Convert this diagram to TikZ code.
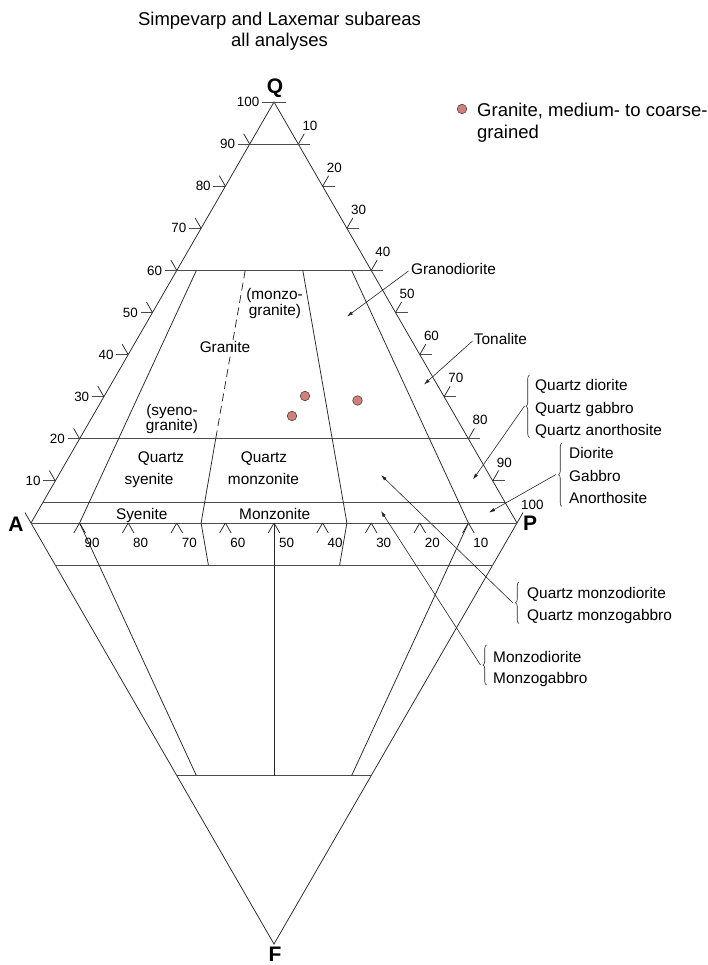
\documentclass[tikz,border=0pt]{standalone}
\usepackage{fontspec}
\setmainfont{Liberation Sans}
\usetikzlibrary{arrows.meta,decorations.pathreplacing}
\definecolor{dotfill}{RGB}{205,128,124}
\definecolor{dotline}{RGB}{70,50,50}
\begin{document}
\begin{tikzpicture}[x=1pt,y=-1pt,
  ln/.style={line width=0.75pt, draw=black!85},
  hl/.style={line width=0.9pt, draw=black!70},
  fld/.style={font=\fontsize{15.4}{16}\selectfont, inner sep=0pt, anchor=base},
  fldw/.style={font=\fontsize{15.4}{16}\selectfont, inner sep=0pt, anchor=base west},
  ticklab/.style={font=\fontsize{13.4}{14}\selectfont, inner sep=0pt},
  vtx/.style={font=\fontsize{21}{22}\selectfont\bfseries, inner sep=0pt},
  ttl/.style={font=\fontsize{18.5}{20}\selectfont, inner sep=0pt, anchor=base},
  arr/.style={line width=0.6pt, draw=black!85, -{Latex[length=6pt,width=3.6pt]}},
  brc/.style={line width=0.6pt, draw=black!85, decorate, decoration={brace, amplitude=3.5pt}},
  dot/.style={circle, fill=dotfill, draw=dotline, line width=0.5pt, minimum size=9.6pt, inner sep=0pt}]
\useasboundingbox (0,0) rectangle (708,965);

% title
\node[ttl] (t1) at (279.5,26) {Simpevarp and Laxemar subareas};
\node[ttl] (t2) at (279.5,47) {all analyses};

% vertices
\coordinate (Q) at (274,102);
\coordinate (A) at (31,523);
\coordinate (P) at (517,523);
\coordinate (F) at (274,944);
\coordinate (Aext) at (25,512.6);
\coordinate (Pext) at (523,512.6);

\node[vtx] (lQ) at (275,88) {Q};
\node[vtx] (lA) at (16,524) {A};
\node[vtx] (lP) at (530,523) {P};
\node[vtx] (lF) at (275,954.5) {F};

% outer edges
\draw[ln] (A) -- (Q) -- (P);
\draw[ln] (Aext) -- (F) -- (Pext);
\draw[hl] (A) -- (P);

% horizontal level lines
\coordinate (h90l) at (249.7,144.1); \coordinate (h90r) at (298.3,144.1);
\coordinate (h60l) at (176.8,270.4); \coordinate (h60r) at (371.2,270.4);
\coordinate (h20l) at (79.6,438.8);  \coordinate (h20r) at (468.4,438.8);
\coordinate (h5l) at (43.15,501.95); \coordinate (h5r) at (504.85,501.95);
\coordinate (f10l) at (55.3,565.1);  \coordinate (f10r) at (492.7,565.1);
\coordinate (f60l) at (176.8,775.6); \coordinate (f60r) at (371.2,775.6);
\draw[hl] (h90l) -- (h90r);
\draw[hl] (h60l) -- (h60r);
\draw[hl] (h20l) -- (h20r);
\draw[hl] (h5l) -- (h5r);
\draw[hl] (f10l) -- (f10r);
\draw[hl] (f60l) -- (f60r);

% field boundaries
\coordinate (a1) at (196.4,270.4); \coordinate (a2) at (79.6,523);  \coordinate (a3) at (196.4,775.6);
\coordinate (b1) at (351.6,270.4); \coordinate (b2) at (468.4,523); \coordinate (b3) at (351.6,775.6);
\coordinate (c1) at (245.2,270.4); \coordinate (c2) at (215.7,438.8); \coordinate (c3) at (201.1,523); \coordinate (c4) at (208.4,565.1);
\coordinate (d1) at (302.8,270.4); \coordinate (d2) at (346.9,523); \coordinate (d3) at (339.6,565.1);
\coordinate (e1) at (274,523); \coordinate (e2) at (274,775.6);
\draw[ln] (a1) -- (a2) -- (a3);
\draw[ln] (b1) -- (b2) -- (b3);
\draw[ln, dash pattern=on 8pt off 4.5pt] (c1) -- (c2);
\draw[ln] (c2) -- (c3) -- (c4);
\draw[ln] (d1) -- (d2) -- (d3);
\draw[ln] (e1) -- (e2);

% apex tick
\coordinate (apl) at (262,102); \coordinate (apr) at (286,102);
\draw[hl] (apl) -- (apr);
\node[ticklab, anchor=east] (q100) at (259.5,102) {100};

% left ticks (Q)
\foreach \k in {1,...,9}{
  \pgfmathsetmacro\lx{274-24.3*(10-\k)}
  \pgfmathsetmacro\ly{523-42.1*\k}
  \coordinate (lt\k) at (\lx,\ly);
  \draw[hl] (lt\k) -- ++(-12,0);
  \draw[ln] (lt\k) -- ++(-6,-10.4);
  \node[ticklab, anchor=east] (ql\k) at (\lx-14.5,\ly) {\k0};
}
% right ticks (P along Q-P edge)
\foreach \k in {1,...,9}{
  \pgfmathsetmacro\rx{274+24.3*(10-\k)}
  \pgfmathsetmacro\ry{523-42.1*\k}
  \pgfmathtruncatemacro\lab{(10-\k)*10}
  \coordinate (rt\k) at (\rx,\ry);
  \draw[hl] (rt\k) -- ++(12,0);
  \draw[ln] (rt\k) -- ++(6,-10.4);
  \node[ticklab, anchor=west] (pr\k) at (\rx+4,\ry-18.5) {\lab};
}
\node[ticklab, anchor=west] (pr0) at (521,505) {100};

% bottom ticks
\foreach \j/\lab in {1/90,2/80,3/70,4/60,5/50,6/40,7/30,8/20,9/10}{
  \pgfmathsetmacro\bx{31+48.6*\j}
  \coordinate (bt\j) at (\bx,523);
  \draw[ln] (bt\j) -- ++(-5.8,10);
  \draw[ln] (bt\j) -- ++(5.8,10);
  \node[ticklab] (ab\j) at (\bx+12.5,542.5) {\lab};
}

% field names
\node[fld] (mz1) at (274.5,299) {(monzo-};
\node[fld] (mz2) at (275,315) {granite)};
\node[fld] (gr) at (225,352.5) {Granite};
\node[fld] (sy1) at (172,415) {(syeno-};
\node[fld] (sy2) at (172,430.5) {granite)};
\node[fld] (qs1) at (161,462) {Quartz};
\node[fld] (qs2) at (149,484) {syenite};
\node[fld] (qm1) at (264,462) {Quartz};
\node[fld] (qm2) at (263.5,484) {monzonite};
\node[fld] (sye) at (141.7,519.5) {Syenite};
\node[fld] (mon) at (274.7,519.5) {Monzonite};

% labels outside with arrows
\node[fld] (gd) at (453.5,274.5) {Granodiorite};
\node[fld] (to) at (500.5,344.5) {Tonalite};
\coordinate (gds) at (408.5,271); \coordinate (gdt) at (347,316.5);
\coordinate (tos) at (472.5,341); \coordinate (tot) at (424,384.5);
\draw[arr] (gds) -- (gdt);
\draw[arr] (tos) -- (tot);

\node[fldw] (qd1) at (535,390.5) {Quartz diorite};
\node[fldw] (qd2) at (535,413.5) {Quartz gabbro};
\node[fldw] (qd3) at (535,435) {Quartz anorthosite};
\coordinate (qdb1) at (529.5,437.5); \coordinate (qdb2) at (529.5,375);
\draw[brc] (qdb1) -- (qdb2);
\coordinate (qds) at (524.5,406); \coordinate (qdt) at (473,479.5);
\draw[arr] (qds) -- (qdt);

\node[fldw] (di1) at (569,458.5) {Diorite};
\node[fldw] (di2) at (569,481.5) {Gabbro};
\node[fldw] (di3) at (569,503.5) {Anorthosite};
\coordinate (dib1) at (562,506.5); \coordinate (dib2) at (562,443);
\draw[brc] (dib1) -- (dib2);
\coordinate (dis) at (556,474.5); \coordinate (dit) at (489,512.5);
\draw[arr] (dis) -- (dit);

\node[fldw] (qz1) at (527,598.5) {Quartz monzodiorite};
\node[fldw] (qz2) at (527,620.5) {Quartz monzogabbro};
\coordinate (qzb1) at (519,623.5); \coordinate (qzb2) at (519,582);
\draw[brc] (qzb1) -- (qzb2);
\coordinate (qzs) at (513,603); \coordinate (qzt) at (381,475);
\draw[arr] (qzs) -- (qzt);

\node[fldw] (mo1) at (493,662.5) {Monzodiorite};
\node[fldw] (mo2) at (493,683.5) {Monzogabbro};
\coordinate (mob1) at (486.5,685); \coordinate (mob2) at (486.5,645);
\draw[brc] (mob1) -- (mob2);
\coordinate (mos) at (480.5,665); \coordinate (mot) at (381,511);
\draw[arr] (mos) -- (mot);

% data points
\node[dot] (p1) at (305,396) {};
\node[dot] (p2) at (292,416) {};
\node[dot] (p3) at (357.5,400.5) {};

% legend
\node[dot] (lg) at (462,109) {};
\node[ttl, anchor=base west] (lg1) at (477,116.5) {Granite, medium- to coarse-};
\node[ttl, anchor=base west] (lg2) at (477,138.5) {grained};
\end{tikzpicture}
\end{document}
